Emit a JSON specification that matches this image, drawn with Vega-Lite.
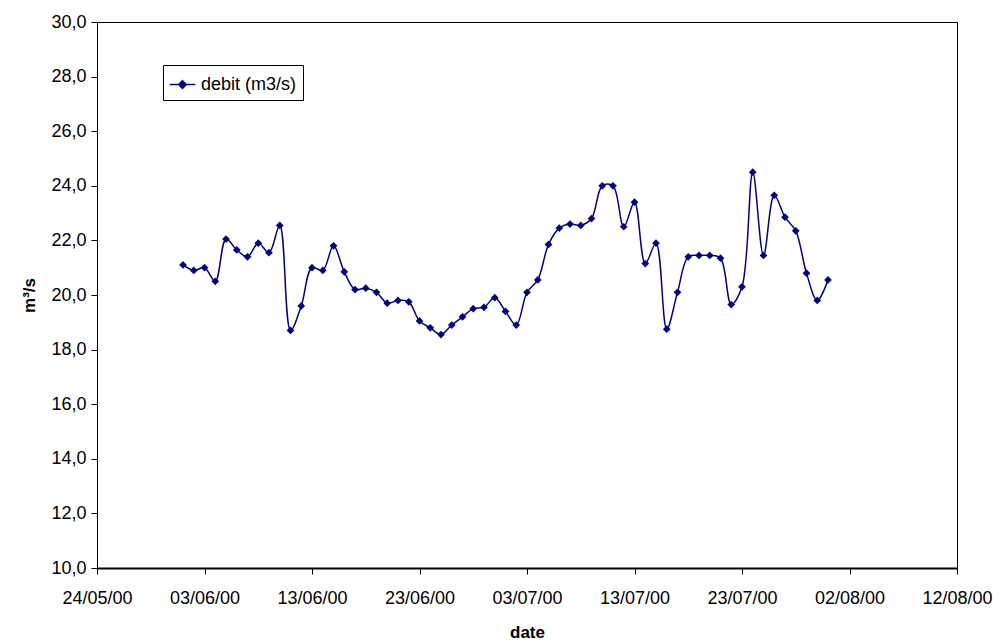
{
  "$schema": "https://vega.github.io/schema/vega-lite/v6.json",
  "autosize": {"type": "none"},
  "width": 860,
  "height": 546,
  "padding": {"left": 97, "top": 22, "right": 44, "bottom": 76},
  "background": "white",
  "config": {
    "view": {"stroke": "#000", "strokeWidth": 1},
    "font": "Liberation Sans"
  },
  "data": {
    "values": [
      {"date": "2000-06-01", "debit": 21.1, "series": "debit (m3/s)"},
      {"date": "2000-06-02", "debit": 20.9, "series": "debit (m3/s)"},
      {"date": "2000-06-03", "debit": 21.0, "series": "debit (m3/s)"},
      {"date": "2000-06-04", "debit": 20.5, "series": "debit (m3/s)"},
      {"date": "2000-06-05", "debit": 22.05, "series": "debit (m3/s)"},
      {"date": "2000-06-06", "debit": 21.65, "series": "debit (m3/s)"},
      {"date": "2000-06-07", "debit": 21.4, "series": "debit (m3/s)"},
      {"date": "2000-06-08", "debit": 21.9, "series": "debit (m3/s)"},
      {"date": "2000-06-09", "debit": 21.55, "series": "debit (m3/s)"},
      {"date": "2000-06-10", "debit": 22.55, "series": "debit (m3/s)"},
      {"date": "2000-06-11", "debit": 18.7, "series": "debit (m3/s)"},
      {"date": "2000-06-12", "debit": 19.6, "series": "debit (m3/s)"},
      {"date": "2000-06-13", "debit": 21.0, "series": "debit (m3/s)"},
      {"date": "2000-06-14", "debit": 20.9, "series": "debit (m3/s)"},
      {"date": "2000-06-15", "debit": 21.8, "series": "debit (m3/s)"},
      {"date": "2000-06-16", "debit": 20.85, "series": "debit (m3/s)"},
      {"date": "2000-06-17", "debit": 20.2, "series": "debit (m3/s)"},
      {"date": "2000-06-18", "debit": 20.25, "series": "debit (m3/s)"},
      {"date": "2000-06-19", "debit": 20.1, "series": "debit (m3/s)"},
      {"date": "2000-06-20", "debit": 19.7, "series": "debit (m3/s)"},
      {"date": "2000-06-21", "debit": 19.8, "series": "debit (m3/s)"},
      {"date": "2000-06-22", "debit": 19.75, "series": "debit (m3/s)"},
      {"date": "2000-06-23", "debit": 19.05, "series": "debit (m3/s)"},
      {"date": "2000-06-24", "debit": 18.8, "series": "debit (m3/s)"},
      {"date": "2000-06-25", "debit": 18.55, "series": "debit (m3/s)"},
      {"date": "2000-06-26", "debit": 18.9, "series": "debit (m3/s)"},
      {"date": "2000-06-27", "debit": 19.2, "series": "debit (m3/s)"},
      {"date": "2000-06-28", "debit": 19.5, "series": "debit (m3/s)"},
      {"date": "2000-06-29", "debit": 19.55, "series": "debit (m3/s)"},
      {"date": "2000-06-30", "debit": 19.9, "series": "debit (m3/s)"},
      {"date": "2000-07-01", "debit": 19.4, "series": "debit (m3/s)"},
      {"date": "2000-07-02", "debit": 18.9, "series": "debit (m3/s)"},
      {"date": "2000-07-03", "debit": 20.1, "series": "debit (m3/s)"},
      {"date": "2000-07-04", "debit": 20.55, "series": "debit (m3/s)"},
      {"date": "2000-07-05", "debit": 21.85, "series": "debit (m3/s)"},
      {"date": "2000-07-06", "debit": 22.45, "series": "debit (m3/s)"},
      {"date": "2000-07-07", "debit": 22.6, "series": "debit (m3/s)"},
      {"date": "2000-07-08", "debit": 22.55, "series": "debit (m3/s)"},
      {"date": "2000-07-09", "debit": 22.8, "series": "debit (m3/s)"},
      {"date": "2000-07-10", "debit": 24.0, "series": "debit (m3/s)"},
      {"date": "2000-07-11", "debit": 24.0, "series": "debit (m3/s)"},
      {"date": "2000-07-12", "debit": 22.5, "series": "debit (m3/s)"},
      {"date": "2000-07-13", "debit": 23.4, "series": "debit (m3/s)"},
      {"date": "2000-07-14", "debit": 21.15, "series": "debit (m3/s)"},
      {"date": "2000-07-15", "debit": 21.9, "series": "debit (m3/s)"},
      {"date": "2000-07-16", "debit": 18.75, "series": "debit (m3/s)"},
      {"date": "2000-07-17", "debit": 20.1, "series": "debit (m3/s)"},
      {"date": "2000-07-18", "debit": 21.4, "series": "debit (m3/s)"},
      {"date": "2000-07-19", "debit": 21.45, "series": "debit (m3/s)"},
      {"date": "2000-07-20", "debit": 21.45, "series": "debit (m3/s)"},
      {"date": "2000-07-21", "debit": 21.35, "series": "debit (m3/s)"},
      {"date": "2000-07-22", "debit": 19.65, "series": "debit (m3/s)"},
      {"date": "2000-07-23", "debit": 20.3, "series": "debit (m3/s)"},
      {"date": "2000-07-24", "debit": 24.5, "series": "debit (m3/s)"},
      {"date": "2000-07-25", "debit": 21.45, "series": "debit (m3/s)"},
      {"date": "2000-07-26", "debit": 23.65, "series": "debit (m3/s)"},
      {"date": "2000-07-27", "debit": 22.85, "series": "debit (m3/s)"},
      {"date": "2000-07-28", "debit": 22.35, "series": "debit (m3/s)"},
      {"date": "2000-07-29", "debit": 20.8, "series": "debit (m3/s)"},
      {"date": "2000-07-30", "debit": 19.8, "series": "debit (m3/s)"},
      {"date": "2000-07-31", "debit": 20.55, "series": "debit (m3/s)"}
    ]
  },
  "encoding": {
    "x": {
      "field": "date",
      "type": "temporal",
      "title": "date",
      "scale": {
        "type": "utc",
        "domain": [
          {"year": 2000, "month": 5, "date": 24, "utc": true},
          {"year": 2000, "month": 8, "date": 12, "utc": true}
        ]
      },
      "axis": {
        "values": [
          {"year": 2000, "month": 5, "date": 24, "utc": true},
          {"year": 2000, "month": 6, "date": 3, "utc": true},
          {"year": 2000, "month": 6, "date": 13, "utc": true},
          {"year": 2000, "month": 6, "date": 23, "utc": true},
          {"year": 2000, "month": 7, "date": 3, "utc": true},
          {"year": 2000, "month": 7, "date": 13, "utc": true},
          {"year": 2000, "month": 7, "date": 23, "utc": true},
          {"year": 2000, "month": 8, "date": 2, "utc": true},
          {"year": 2000, "month": 8, "date": 12, "utc": true}
        ],
        "labelExpr": "utcFormat(datum.value, '%d/%m/%y')",
        "grid": false,
        "domainColor": "#000",
        "domainWidth": 2,
        "tickColor": "#000",
        "tickSize": 6,
        "labelFontSize": 18,
        "labelColor": "#000",
        "labelPadding": 15,
        "labelFlush": false,
        "labelOverlap": false,
        "titleFontSize": 17,
        "titleFontWeight": "bold",
        "titleColor": "#000",
        "titlePadding": 17
      }
    },
    "y": {
      "field": "debit",
      "type": "quantitative",
      "title": "m³/s",
      "scale": {"domain": [10, 30], "nice": false, "zero": false},
      "axis": {
        "values": [10, 12, 14, 16, 18, 20, 22, 24, 26, 28, 30],
        "labelExpr": "replace(format(datum.value, '.1f'), '.', ',')",
        "grid": false,
        "domainColor": "#000",
        "tickColor": "#000",
        "tickSize": 6,
        "labelFontSize": 18,
        "labelColor": "#000",
        "labelPadding": 5,
        "titleFontSize": 17,
        "titleFontWeight": "bold",
        "titleColor": "#000",
        "titlePadding": 12
      }
    },
    "color": {
      "field": "series",
      "type": "nominal",
      "scale": {"range": ["#000080"]},
      "legend": {
        "title": null,
        "orient": "none",
        "legendX": 66,
        "legendY": 43,
        "strokeColor": "#000",
        "fillColor": "white",
        "padding": 6,
        "symbolType": "M-1,0H1M0,-0.3L0.3,0L0,0.3L-0.3,0Z",
        "symbolSize": 650,
        "symbolStrokeWidth": 1.5,
        "symbolFillColor": "#000080",
        "symbolStrokeColor": "#000080",
        "labelFontSize": 18,
        "labelColor": "#000",
        "labelOffset": 5
      }
    }
  },
  "layer": [
    {
      "mark": {"type": "line", "interpolate": "catmull-rom", "strokeWidth": 1.5, "color": "#000080"}
    },
    {
      "mark": {"type": "point", "shape": "diamond", "filled": true, "size": 60, "opacity": 1, "color": "#000080"}
    }
  ]
}
